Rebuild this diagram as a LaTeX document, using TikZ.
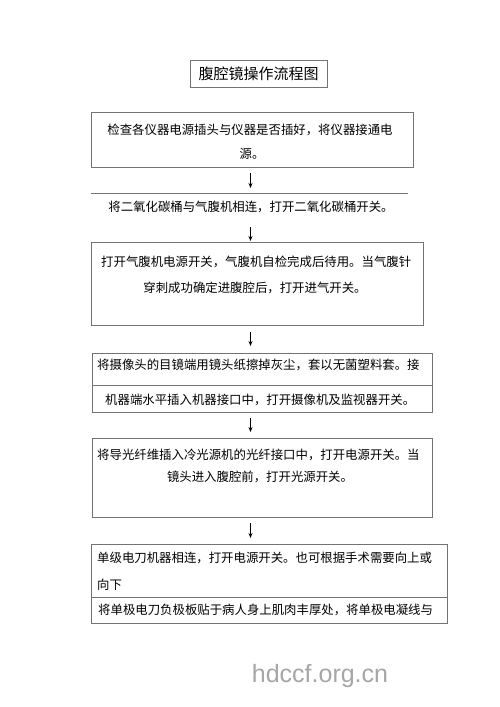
\documentclass[tikz,border=0pt]{standalone}
\usepackage{fontspec}
\newfontfamily\cjk{Noto Sans CJK SC}
\newfontfamily\wmfont{Liberation Sans}
\usetikzlibrary{arrows.meta}
\begin{document}
\begin{tikzpicture}[x=1pt,y=-1pt,
  boxline/.style={draw=black!55,line width=0.8pt},
  txt/.style={inner sep=0pt,font=\cjk\fontsize{12.4pt}{14pt}\selectfont,anchor=west},
  ctxt/.style={inner sep=0pt,font=\cjk\fontsize{12.4pt}{14pt}\selectfont},
  arr/.style={-{Stealth[length=5pt,width=4pt]},line width=0.9pt,black}]
\useasboundingbox[fill=white] (0,0) rectangle (500,707);
% title
\node[boxline,minimum width=137pt,minimum height=27pt,inner sep=0pt,
  font=\cjk\fontsize{15pt}{17pt}\selectfont] (title) at (258.5,73.5) {腹腔镜操作流程图};
% box 1
\node[boxline,minimum width=322pt,minimum height=55pt,inner sep=0pt] (b1) at (252,139.5) {};
\node[ctxt] (t1a) at (250,130) {检查各仪器电源插头与仪器是否插好，将仪器接通电};
\node[ctxt] (t1b) at (252,154) {源。};
% arrow 1
\coordinate (a1s) at (250.5,173);
\coordinate (a1e) at (250.5,188);
\draw[arr] (a1s) -- (a1e);
% line step
\coordinate (l2w) at (91,193);
\coordinate (l2e) at (408,193);
\draw[boxline] (l2w) -- (l2e);
\node[ctxt] (t2) at (251,207) {将二氧化碳桶与气腹机相连，打开二氧化碳桶开关。};
% arrow 2
\coordinate (a2s) at (250.5,227);
\coordinate (a2e) at (250.5,241);
\draw[arr] (a2s) -- (a2e);
% box 3
\node[boxline,minimum width=332pt,minimum height=83pt,inner sep=0pt] (b3) at (257,283.5) {};
\node[txt] (t3a) at (101,262) {打开气腹机电源开关，气腹机自检完成后待用。当气腹针};
\node[ctxt] (t3b) at (255,288) {穿刺成功确定进腹腔后，打开进气开关。};
% arrow 3
\coordinate (a3s) at (250.5,332);
\coordinate (a3e) at (250.5,346);
\draw[arr] (a3s) -- (a3e);
% box 4
\node[boxline,minimum width=340pt,minimum height=59pt,inner sep=0pt] (b4) at (262,382.5) {};
\draw[boxline] (b4.west |- 0,385) -- (b4.east |- 0,385);
\node[txt] (t4a) at (97,365) {将摄像头的目镜端用镜头纸擦掉灰尘，套以无菌塑料套。接};
\node[txt] (t4b) at (105,400) {机器端水平插入机器接口中，打开摄像机及监视器开关。};
% arrow 4
\coordinate (a4s) at (250.5,418);
\coordinate (a4e) at (250.5,432);
\draw[arr] (a4s) -- (a4e);
% box 5
\node[boxline,minimum width=340pt,minimum height=79pt,inner sep=0pt] (b5) at (262,477.5) {};
\node[txt] (t5a) at (97,455) {将导光纤维插入冷光源机的光纤接口中，打开电源开关。当};
\node[ctxt] (t5b) at (260,477) {镜头进入腹腔前，打开光源开关。};
% arrow 5
\coordinate (a5s) at (250.5,523);
\coordinate (a5e) at (250.5,538);
\draw[arr] (a5s) -- (a5e);
% box 6
\node[boxline,minimum width=356pt,minimum height=79pt,inner sep=0pt] (b6) at (269,583.5) {};
\draw[boxline] (b6.west |- 0,597) -- (b6.east |- 0,597);
\node[txt] (t6a) at (97,558) {单级电刀机器相连，打开电源开关。也可根据手术需要向上或};
\node[txt] (t6b) at (97,585) {向下};
\node[txt] (t6c) at (98,610) {将单极电刀负极板贴于病人身上肌肉丰厚处，将单极电凝线与};
% watermark
\node[inner sep=0pt,anchor=base,text=black!35,font=\wmfont\fontsize{25pt}{27pt}\selectfont] (wm) at (320,682) {hdccf.org.cn};
\end{tikzpicture}
\end{document}
